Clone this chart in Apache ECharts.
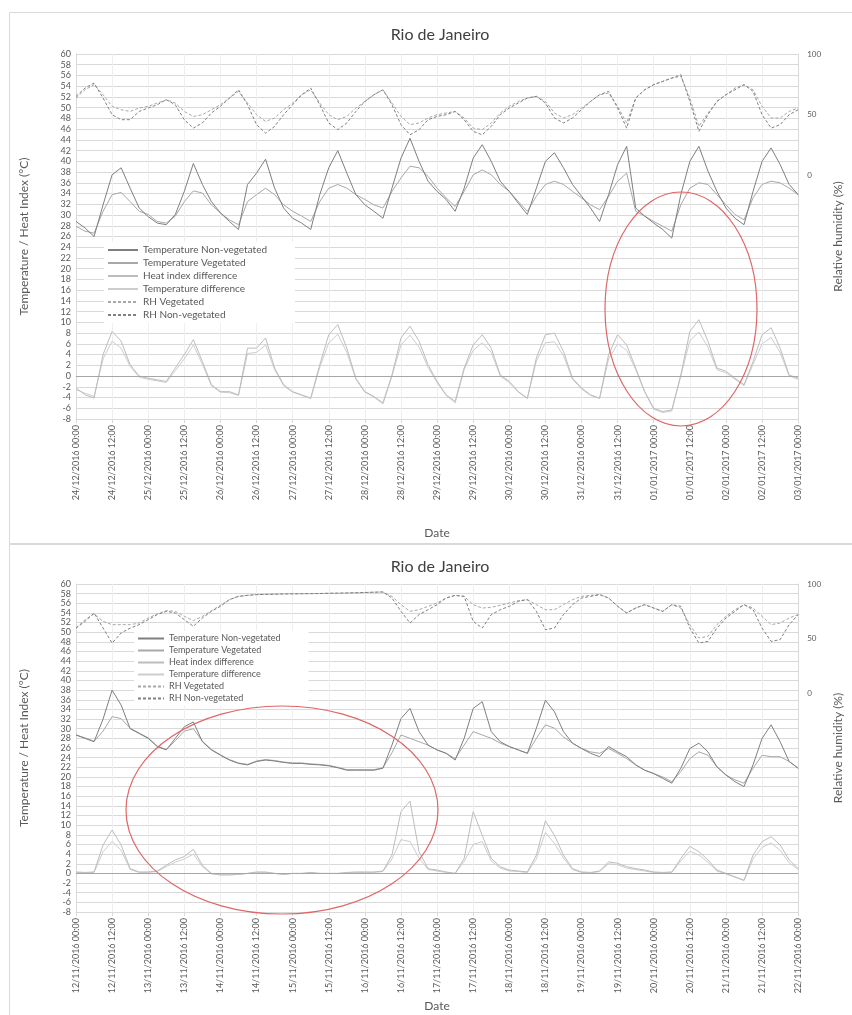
<!DOCTYPE html>
<html>
<head>
<meta charset="utf-8">
<script src="https://cdn.jsdelivr.net/npm/echarts@6/dist/echarts.min.js"></script>
<style>html,body{margin:0;padding:0;background:#fff}#chart{width:852px;height:1015px}</style>
</head>
<body>
<div id="chart"></div>
<script>
// ---------- DATA (3-hour steps, 81 points per series) ----------
const stepHours = 3;
const seriesNames = ['Temperature Non-vegetated','Temperature Vegetated','Heat index difference','Temperature difference','RH Vegetated','RH Non-vegetated'];

const topTicks = ['24/12/2016 00:00','24/12/2016 12:00','25/12/2016 00:00','25/12/2016 12:00','26/12/2016 00:00','26/12/2016 12:00','27/12/2016 00:00','27/12/2016 12:00','28/12/2016 00:00','28/12/2016 12:00','29/12/2016 00:00','29/12/2016 12:00','30/12/2016 00:00','30/12/2016 12:00','31/12/2016 00:00','31/12/2016 12:00','01/01/2017 00:00','01/01/2017 12:00','02/01/2017 00:00','02/01/2017 12:00','03/01/2017 00:00'];
const bottomTicks = ['12/11/2016 00:00','12/11/2016 12:00','13/11/2016 00:00','13/11/2016 12:00','14/11/2016 00:00','14/11/2016 12:00','15/11/2016 00:00','15/11/2016 12:00','16/11/2016 00:00','16/11/2016 12:00','17/11/2016 00:00','17/11/2016 12:00','18/11/2016 00:00','18/11/2016 12:00','19/11/2016 00:00','19/11/2016 12:00','20/11/2016 00:00','20/11/2016 12:00','21/11/2016 00:00','21/11/2016 12:00','22/11/2016 00:00'];
const rhTickLabels = ['0','50','100'];

// Top panel (24/12/2016 - 03/01/2017)
const tempNonVeg1 = [
 28.8,27.6,26.0,31.9,37.5,38.8,35.0,31.3,
 29.7,28.5,28.2,30.1,34.4,39.6,35.7,32.5,
 30.4,28.8,27.3,35.7,37.8,40.4,35.0,31.3,
 29.4,28.5,27.3,33.8,38.8,42.0,37.8,33.8,
 31.9,30.7,29.4,35.0,40.6,44.3,40.0,36.3,
 34.4,32.9,30.7,35.0,40.6,43.1,40.0,36.3,
 34.4,32.2,30.1,35.0,40.0,41.6,38.8,35.7,
 33.5,31.3,28.8,33.8,39.4,42.8,31.3,29.8,
 28.5,27.3,25.7,33.8,40.0,42.8,38.2,34.4,
 31.3,29.4,28.2,34.4,40.0,42.5,39.4,35.7,
 33.8];
const tempVeg1 = [
 27.9,27.0,26.6,30.7,33.8,34.2,32.5,30.7,
 30.1,28.8,28.5,29.8,32.5,34.5,34.1,31.9,
 30.4,29.1,28.2,32.5,33.8,35.0,33.8,31.9,
 30.7,29.8,28.8,32.5,35.0,35.7,35.0,33.8,
 32.9,31.9,31.3,34.4,36.9,39.1,38.8,37.2,
 35.0,33.2,31.6,34.4,37.5,38.4,37.5,35.7,
 34.4,32.5,30.7,33.5,35.7,36.3,35.7,34.4,
 33.2,31.9,31.0,33.5,36.3,37.8,30.7,29.8,
 28.8,27.9,27.0,31.9,35.0,36.0,35.7,33.8,
 31.9,30.1,29.1,33.2,35.7,36.3,36.0,35.0,
 33.8];
const heatDiff1 = [
 -2.2,-3.5,-4.1,4.0,8.3,6.5,2.1,0,
 -0.4,-0.7,-1,1.5,4,6.8,2.7,-1.6,
 -2.9,-2.9,-3.5,5.2,5.2,7.1,1.5,-1.6,
 -2.9,-3.5,-4.1,2.1,7.7,9.6,5.2,-0.4,
 -2.9,-3.8,-5.0,0.2,7.1,9.3,6.5,2.1,
 -1,-3.5,-4.7,1.5,5.8,7.7,5.2,0.2,
 -1,-2.9,-4.1,3.4,7.7,8,4.6,-0.4,
 -2.2,-3.5,-4.1,4.0,7.7,5.8,1.5,-2.9,
 -6,-6.6,-6.3,0.2,8.3,10.5,6.5,1.5,
 0.9,-0.4,-1.6,2.7,7.7,9,5.2,0.2,
 -0.4];
const tempDiff1 = [
 -2.5,-3.2,-3.8,3.2,6.5,5.2,1.8,-0.2,
 -0.6,-0.9,-1.2,1.0,3.2,5.8,2.2,-1.8,
 -3.0,-3.1,-3.6,4.2,4.4,5.8,1.2,-1.8,
 -3.0,-3.6,-4.2,1.6,6.2,7.8,4.4,-0.6,
 -3.0,-3.9,-5.2,0,5.8,7.6,5.4,1.6,
 -1.2,-3.6,-5.0,1.2,4.8,6.2,4.4,0,
 -1.2,-3.0,-4.2,2.8,6.2,6.4,3.8,-0.6,
 -2.4,-3.6,-4.2,3.2,6.0,4.8,1.2,-3.0,
 -6.2,-6.8,-6.5,0,6.6,8.2,5.4,1.2,
 0.6,-0.6,-1.8,2.2,6.0,7.2,4.4,0,
 -0.6];
const rhVeg1 = [
 63.8,70.6,74.8,66.5,57,54.2,52.8,55.6,
 57,59.7,62.4,59.7,52.8,48.7,50.1,54.2,
 58.3,63.8,69.3,59.7,50.1,44.6,47.4,54.2,
 59.7,66.5,70.6,59.7,50.1,46,48.7,55.6,
 61,66.5,70.6,59.7,48.7,41.9,43.3,47.4,
 50.1,51.5,52.8,47.4,39.1,37.8,43.3,51.5,
 57,61,63.8,65.2,61,51.5,47.4,50.1,
 55.6,61,66.5,67.9,57,43.3,63.8,70.6,
 74.8,77.5,80.2,81.6,63.8,40.5,51.5,61,
 66.5,72,74.8,70.6,57,47.4,47.4,52.8,
 55.6];
const rhNonVeg1 = [
 65.2,72,76.1,63.8,50.1,46,46,52.8,
 55.6,58.3,62.4,58.3,46,39.1,43.3,51.5,
 57,63.8,70.6,58.3,41.9,35,40.5,50.1,
 58.3,66.5,72,58.3,43.3,37.8,43.3,52.8,
 61,66.5,70.6,58.3,41.9,33.6,37.8,46,
 48.7,50.1,52.8,46,36.4,33.6,40.5,50.1,
 55.6,59.7,63.8,65.2,59.7,47.4,43.3,47.4,
 54.2,61,66.5,69.3,55.6,39.1,63.8,70.6,
 74.8,77.5,80.2,83,61,36.4,50.1,61,
 66.5,70.6,74.8,69.3,50.1,39.1,41.9,50.1,
 54.2];

// Bottom panel (12/11/2016 - 22/11/2016)
const tempNonVeg2 = [
 28.7,28.0,27.3,32.0,38.0,34.9,30.0,29.0,
 28.0,26.3,25.6,28.0,30.4,31.4,27.3,25.6,
 24.5,23.5,22.8,22.5,23.2,23.5,23.3,23.0,
 22.8,22.8,22.6,22.5,22.3,21.9,21.4,21.4,
 21.4,21.4,21.8,26.6,32.1,34.2,29.4,26.6,
 25.6,24.9,23.5,28.0,34.2,35.6,29.4,27.3,
 26.3,25.6,24.9,30.1,35.9,33.5,29.4,27.0,
 25.9,24.9,24.2,26.3,25.2,24.2,22.5,21.4,
 20.7,19.7,18.7,21.8,25.9,27.0,25.2,22.1,
 20.4,19.0,18.0,22.5,28.0,30.8,27.3,23.2,
 21.8];
const tempVeg2 = [
 28.7,28.1,27.4,29.5,32.5,32.1,30.1,29.1,
 28.1,26.4,25.7,27.5,29.5,30.0,27.4,25.7,
 24.6,23.6,22.9,22.6,23.3,23.6,23.4,23.1,
 22.9,22.9,22.7,22.6,22.4,22.0,21.5,21.5,
 21.5,21.5,21.9,25.0,28.7,28.0,27.3,26.6,
 25.6,24.9,23.8,26.6,29.4,28.7,28.0,27.0,
 26.3,25.6,24.9,28.0,30.8,30.1,28.3,27.0,
 25.9,25.2,24.9,25.9,24.9,23.8,22.5,21.4,
 20.7,20.0,19.0,21.1,23.8,25.2,24.5,22.1,
 20.4,19.4,18.7,21.8,24.5,24.2,24.2,23.2,
 21.8];
const heatDiff2 = [
 0.3,0.2,0.3,5.9,9.0,5.9,1.0,0.3,
 0.3,0.5,1.7,2.8,3.5,5.0,1.7,0,
 -0.3,-0.3,-0.2,0,0.3,0.3,0,-0.2,
 0,0,0.2,0,0,0,0.2,0.3,
 0.3,0.3,0.5,3.8,12.8,15.0,4.5,1.0,
 0.7,0.3,0,3.1,12.8,7.9,3.1,1.4,
 0.7,0.5,0.3,3.8,10.9,7.9,3.8,1.0,
 0.3,0.2,0.5,2.4,2.1,1.4,1.0,0.7,
 0.3,0.2,0.3,3.1,5.6,4.5,2.8,0.7,
 0,-0.7,-1.4,3.8,6.6,7.6,5.9,2.8,
 1.0];
const tempDiff2 = [
 0.2,0.1,0.2,4.5,6.6,4.8,0.8,0.2,
 0.2,0.4,1.4,2.3,3.0,4.0,1.4,-0.1,
 -0.3,-0.3,-0.2,0,0.2,0.2,0,-0.2,
 0,0,0.1,0,0,0,0.1,0.2,
 0.2,0.2,0.4,3.0,7.0,6.6,3.2,0.8,
 0.5,0.2,0,2.5,6.0,6.6,2.6,1.1,
 0.5,0.4,0.2,3.0,8.5,6.2,3.2,0.8,
 0.2,0.1,0.4,2.0,1.8,1.1,0.8,0.5,
 0.2,0.1,0.2,2.6,4.6,3.8,2.3,0.5,
 -0.1,-0.8,-1.5,3.0,5.4,6.3,4.8,2.2,
 0.8];
const rhVeg2 = [
 59.7,67.4,72.6,65.8,62.8,62.8,62.8,64.3,
 68.9,72.6,75.6,75,70.4,66.5,70.4,75.6,
 80.5,85.7,88.7,89.6,90.3,90.5,90.7,90.9,
 91,91.1,91.2,91.3,91.5,91.6,91.8,92,
 92.2,92.5,92.7,88.7,81.1,75,76.5,79.6,
 82.6,87.2,89.6,88.7,81.1,78,78.7,80.5,
 82.6,84.8,85.7,81.1,76.5,76.5,81.1,85.7,
 88.7,89.6,90.3,87.2,79.6,73.5,78,81.1,
 78,75,81.1,78,62.8,50.6,52.1,62.8,
 70.4,76.5,81.1,78,70.4,62.8,64.3,68.9,
 72];
const rhNonVeg2 = [
 59.7,65.8,73.5,59.7,46,55.2,59.7,62.8,
 67.4,72,75,73.5,67.4,61.3,68.9,75,
 79.6,85.7,88.7,89.6,90.3,90.5,90.7,90.9,
 91,91.1,91.2,91.3,91.5,91.6,91.8,92,
 92.2,92.5,92.7,87.2,75,64.3,72,76.5,
 81.1,87.2,89.6,88.7,65.8,59.7,72,76.5,
 79.6,84.1,85.7,75,58.2,59.7,72,81.1,
 87.2,88.7,90.3,87.2,79.6,73.5,78,81.1,
 78,75,81.1,79.6,59.7,46,47.5,59.7,
 68.9,75,81.1,76.5,59.7,47.5,49.1,62.8,
 72];

// ---------- CHART ----------
const FONT = 'Lato, "Open Sans", "DejaVu Sans", sans-serif';
const LBL = '#595959';
const GRID = '#d9d9d9';
const toXY = arr => arr.map((v, i) => [i * stepHours, v]);

const colors = {
  'Temperature Non-vegetated': '#7f7f7f',
  'Temperature Vegetated': '#a8a8a8',
  'Heat index difference': '#bdbdbd',
  'Temperature difference': '#cdcdcd',
  'RH Vegetated': '#a8a8a8',
  'RH Non-vegetated': '#808080'
};

function panelSeries(p, tNV, tV, hi, td, rhV, rhNV) {
  const xi = p, yl = p * 2, yr = p * 2 + 1;
  const mk = (name, data, yAxisIndex, dashed, extra) => Object.assign({
    name, type: 'line', xAxisIndex: xi, yAxisIndex, data: toXY(data),
    showSymbol: false, symbol: 'none', smooth: false,
    lineStyle: { color: colors[name], width: 1, type: dashed ? [3, 2] : 'solid' },
    itemStyle: { color: colors[name] }, emphasis: { disabled: true }, z: 3
  }, extra || {});
  return [
    mk('Temperature difference', td, yl, false),
    mk('Heat index difference', hi, yl, false, {
      markLine: { silent: true, symbol: 'none', label: { show: false },
        lineStyle: { color: '#a6a6a6', width: 1, type: 'solid' }, data: [{ yAxis: 0 }] }
    }),
    mk('Temperature Vegetated', tV, yl, false),
    mk('Temperature Non-vegetated', tNV, yl, false),
    mk('RH Vegetated', rhV, yr, true),
    mk('RH Non-vegetated', rhNV, yr, true)
  ];
}

function xAxisCfg(grid, ticks, gap) {
  return {
    gridIndex: grid, type: 'value', min: 0, max: 240, interval: 12,
    name: 'Date', nameLocation: 'middle', nameGap: gap,
    nameTextStyle: { fontFamily: FONT, fontSize: 12, color: LBL },
    axisLine: { show: true, onZero: false, lineStyle: { color: GRID } },
    axisTick: { show: true, length: 4, lineStyle: { color: GRID } },
    axisLabel: { rotate: 90, fontSize: 9, color: LBL, fontFamily: FONT, margin: 6,
      formatter: v => ticks[Math.round(v / 12)] || '' },
    splitLine: { show: true, lineStyle: { color: '#efefef' } }
  };
}
function yLeftCfg(grid) {
  return {
    gridIndex: grid, type: 'value', min: -8, max: 60, interval: 2, position: 'left',
    name: 'Temperature / Heat Index (°C)', nameLocation: 'middle', nameGap: 46, nameRotate: 90,
    nameTextStyle: { fontFamily: FONT, fontSize: 12, color: LBL },
    axisLine: { show: true, lineStyle: { color: GRID } }, axisTick: { show: false },
    axisLabel: { fontSize: 9, color: LBL, fontFamily: FONT, margin: 5 },
    splitLine: { show: true, lineStyle: { color: GRID, width: 1 } }
  };
}
function yRightCfg(grid) {
  return {
    gridIndex: grid, type: 'value', min: -200, max: 100, interval: 50, position: 'right',
    name: 'Relative humidity (%)', nameLocation: 'middle', nameGap: 20, nameRotate: 90,
    nameTextStyle: { fontFamily: FONT, fontSize: 12, color: LBL },
    axisLine: { show: true, lineStyle: { color: GRID } }, axisTick: { show: false },
    axisLabel: { fontSize: 8, color: LBL, fontFamily: FONT, margin: 9,
      formatter: v => rhTickLabels.indexOf(String(v)) >= 0 ? String(v) : '' },
    splitLine: { show: false }
  };
}
function legendCfg(left, top, fs, ih, iw) {
  return {
    orient: 'vertical', left, top, itemWidth: iw, itemHeight: ih, itemGap: 3,
    padding: [3, 28, 3, 3], backgroundColor: '#ffffff', selectedMode: false,
    itemStyle: { color: 'rgba(0,0,0,0)', borderColor: 'rgba(0,0,0,0)', borderWidth: 0, opacity: 0 },
    textStyle: { fontSize: fs, color: LBL, fontFamily: FONT },
    data: seriesNames.slice()
  };
}

const chart = echarts.init(document.getElementById('chart'), null, { renderer: 'canvas' });
chart.setOption({
  animation: false,
  backgroundColor: '#ffffff',
  title: [
    { text: 'Rio de Janeiro', left: 435, top: 22, textAlign: 'center',
      textStyle: { fontFamily: FONT, fontSize: 16, fontWeight: 'normal', color: '#404040' } },
    { text: 'Rio de Janeiro', left: 435, top: 554, textAlign: 'center',
      textStyle: { fontFamily: FONT, fontSize: 16, fontWeight: 'normal', color: '#404040' } }
  ],
  grid: [
    { left: 76, right: 37, top: 54, height: 365, containLabel: false },
    { left: 76, right: 36, top: 584, height: 328, containLabel: false }
  ],
  legend: [legendCfg(104, 242, 10, 10, 30), legendCfg(134, 631, 9, 9, 26)],
  xAxis: [xAxisCfg(0, topTicks, 108), xAxisCfg(1, bottomTicks, 88)],
  yAxis: [yLeftCfg(0), yRightCfg(0), yLeftCfg(1), yRightCfg(1)],
  series: [].concat(
    panelSeries(0, tempNonVeg1, tempVeg1, heatDiff1, tempDiff1, rhVeg1, rhNonVeg1),
    panelSeries(1, tempNonVeg2, tempVeg2, heatDiff2, tempDiff2, rhVeg2, rhNonVeg2)
  ),
  graphic: [
    { type: 'rect', z: 0, silent: true, shape: { x: 9.5, y: 12.5, width: 900, height: 531 },
      style: { fill: 'none', stroke: '#d9d9d9', lineWidth: 1 } },
    { type: 'rect', z: 0, silent: true, shape: { x: 9.5, y: 544.5, width: 900, height: 480 },
      style: { fill: 'none', stroke: '#d9d9d9', lineWidth: 1 } },
    { type: 'ellipse', z: 100, silent: true, shape: { cx: 681, cy: 309, rx: 76, ry: 117 },
      style: { fill: 'none', stroke: '#e06666', lineWidth: 1.2 } },
    { type: 'ellipse', z: 100, silent: true, shape: { cx: 282, cy: 810, rx: 156, ry: 104 },
      style: { fill: 'none', stroke: '#e06666', lineWidth: 1.2 } }
  ]
});
</script>
</body>
</html>
